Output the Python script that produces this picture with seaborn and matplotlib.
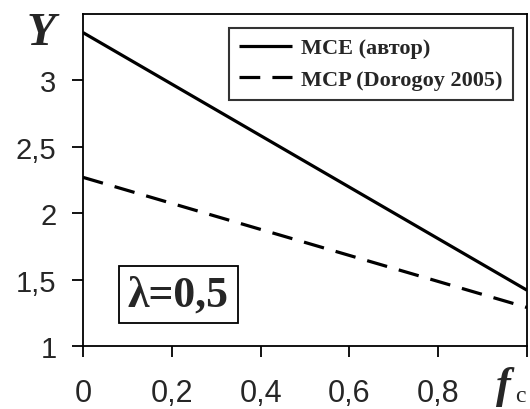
import numpy as np
import pandas as pd
import matplotlib
matplotlib.use("Agg")
import matplotlib.pyplot as plt
import seaborn as sns

fc = [0.0, 1.0]
y_mce = [3.36, 1.42]
y_mcp = [2.27, 1.29]
series_names = ["MCE (автор)", "MCP (Dorogoy 2005)"]
xticks = [0, 0.2, 0.4, 0.6, 0.8, 1.0]
xticklabels = ["0", "0,2", "0,4", "0,6", "0,8", ""]
yticks = [1, 1.5, 2, 2.5, 3]
yticklabels = ["1", "1,5", "2", "2,5", "3"]

df = pd.DataFrame({
    "fc": fc + fc,
    "Y": y_mce + y_mcp,
    "series": [series_names[0]] * len(fc) + [series_names[1]] * len(fc),
})

sns.set_style("ticks")
plt.rcParams['font.family'] = ['Liberation Sans', 'DejaVu Sans']

fig = plt.figure(figsize=(5.3, 4.1), dpi=100)
ax = fig.add_axes([83/530, 1 - 347/410, (527-83)/530, (347-15)/410])

sns.lineplot(data=df, x="fc", y="Y", hue="series", style="series",
             palette=["black", "black"], dashes=[(1, 0), (6.5, 3.8)],
             linewidth=2.3, ax=ax, legend=True)

ax.set_xlim(0, 1)
ax.set_ylim(1, 3.5)
ax.set_xticks(xticks)
ax.set_xticklabels(xticklabels, fontsize=22)
ax.set_yticks(yticks)
ax.set_yticklabels(yticklabels, fontsize=21)
ax.tick_params(axis='both', direction='out', length=8, width=1.3, color='black')
ax.tick_params(axis='x', pad=15)
ax.tick_params(axis='y', pad=11)
for s in ax.spines.values():
    s.set_linewidth(1.3)
    s.set_color('black')
ax.set_xlabel("")
ax.set_ylabel("")

leg = ax.legend(loc='upper right', bbox_to_anchor=(0.968, 0.958), frameon=True, fancybox=False,
                prop={'family': 'Liberation Serif', 'weight': 'bold', 'size': 16},
                handlelength=2.4, borderpad=0.45, labelspacing=0.5, handletextpad=0.4,
                borderaxespad=0)
leg.get_frame().set_edgecolor('black')
leg.get_frame().set_linewidth(1.5)
for line in leg.get_lines():
    line.set_linewidth(2.3)

fig.text(41/530, 1 - 45/410, "Y", fontsize=34, fontweight='bold', fontstyle='italic',
         family='Liberation Serif', ha='center', va='baseline')
fig.text(503/530, 1 - 398/410, "f", fontsize=32, fontweight='bold', fontstyle='italic',
         ha='center', va='baseline', family='Liberation Serif')
fig.text(520/530, 1 - 402/410, "c", fontsize=17, ha='center', va='baseline', family='Liberation Serif')

ax.text((128-83)/444, 0.155, "λ=0,5", transform=ax.transAxes, fontsize=31.5, fontweight='bold',
        family='Liberation Serif', ha='left', va='center',
        bbox=dict(boxstyle='square,pad=0.2', facecolor='white', edgecolor='black', linewidth=1.3))

fig.savefig("out.png", dpi=100)
